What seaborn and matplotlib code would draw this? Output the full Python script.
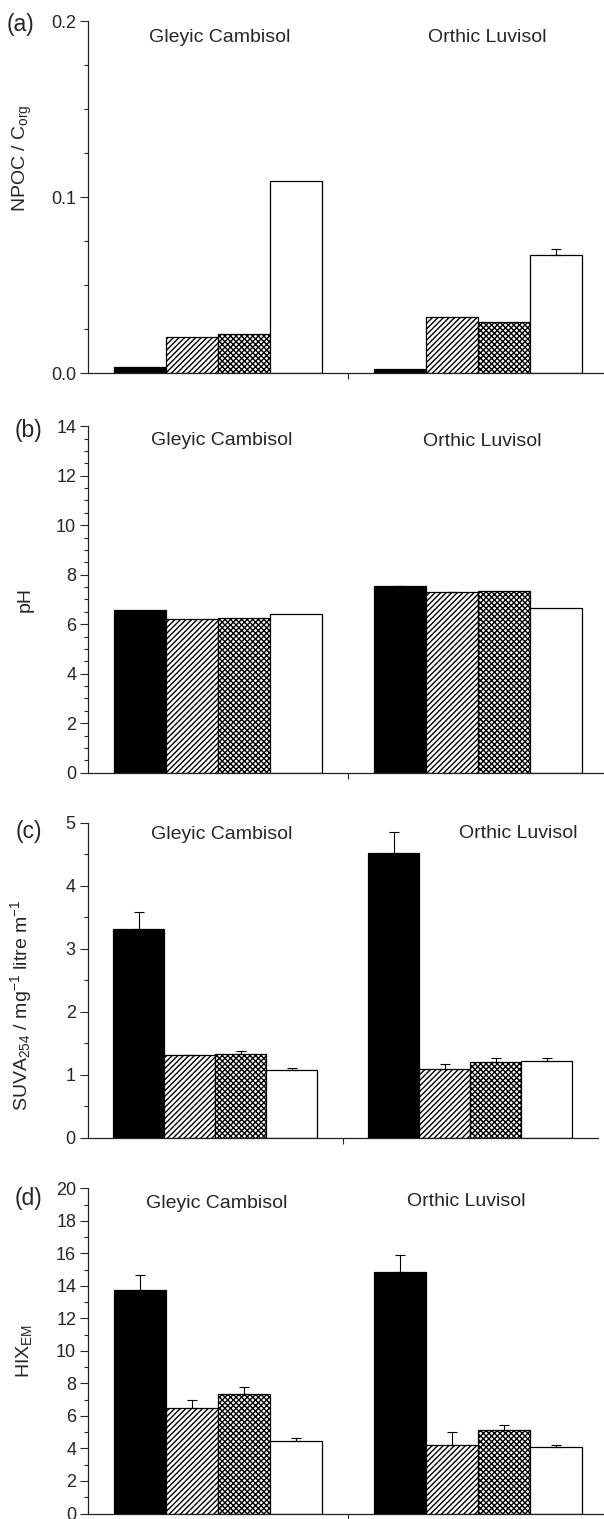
import numpy as np
import pandas as pd
import matplotlib
matplotlib.use("Agg")
import matplotlib.pyplot as plt
import seaborn as sns
from matplotlib.ticker import MultipleLocator, FormatStrFormatter

# ---------------- data ----------------
soils = ["Gleyic Cambisol", "Orthic Luvisol"]
fractions = ["F1", "F2", "F3", "F4"]

npoc_gleyic = [0.0034, 0.0208, 0.0222, 0.109]
npoc_orthic = [0.0023, 0.0318, 0.0290, 0.0672]
npoc_err_gleyic = [0.0, 0.0, 0.0, 0.0]
npoc_err_orthic = [0.0, 0.0, 0.0, 0.0032]

ph_gleyic = [6.56, 6.22, 6.26, 6.42]
ph_orthic = [7.53, 7.30, 7.34, 6.67]
ph_err_gleyic = [0.0, 0.0, 0.0, 0.0]
ph_err_orthic = [0.03, 0.02, 0.0, 0.0]

suva_gleyic = [3.31, 1.31, 1.33, 1.075]
suva_orthic = [4.52, 1.085, 1.20, 1.22]
suva_err_gleyic = [0.27, 0.01, 0.05, 0.035]
suva_err_orthic = [0.34, 0.08, 0.06, 0.045]

hix_gleyic = [13.74, 6.48, 7.34, 4.45]
hix_orthic = [14.87, 4.21, 5.15, 4.11]
hix_err_gleyic = [0.90, 0.51, 0.43, 0.21]
hix_err_orthic = [1.00, 0.82, 0.31, 0.08]

panel_letters = ["(a)", "(b)", "(c)", "(d)"]
ylabels = ["NPOC / C$_{org}$", "pH",
           "SUVA$_{254}$ / mg$^{-1}$ litre m$^{-1}$", "HIX$_{EM}$"]

# ---------------- style ----------------
sns.set_style("ticks")
plt.rcParams["font.family"] = ["Liberation Sans", "DejaVu Sans"]
plt.rcParams["mathtext.default"] = "regular"
plt.rcParams["hatch.linewidth"] = 1.0
plt.rcParams["axes.linewidth"] = 0.9
plt.rcParams["axes.edgecolor"] = "#222222"

face_colors = ["black", "white", "white", "white"]
hatches = ["", "//////", "xxxxxx", ""]

W, H = 604, 1519
fig = plt.figure(figsize=(W / 100, H / 100), dpi=100)


def px_rect(left, top, right, bottom):
    return [left / W, 1 - bottom / H, (right - left) / W, (bottom - top) / H]


def draw_panel(rect, g, o, eg, eo, ymax, major, minor, fmt, ylabel, label_y):
    ax = fig.add_axes(px_rect(*rect))
    df = pd.DataFrame({
        "soil": np.repeat(soils, len(fractions)),
        "fraction": fractions * len(soils),
        "value": list(g) + list(o),
        "err": list(eg) + list(eo),
    })
    sns.barplot(data=df, x="soil", y="value", hue="fraction",
                order=soils, hue_order=fractions, palette=face_colors,
                saturation=1, edgecolor="black", linewidth=0.9,
                width=0.8, errorbar=None, legend=False, ax=ax)
    bar_containers = list(ax.containers)
    for i, cont in enumerate(bar_containers):
        for j, patch in enumerate(cont.patches):
            patch.set_hatch(hatches[i])
            e = df[(df.soil == soils[j]) & (df.fraction == fractions[i])]["err"].iloc[0]
            if e > 0:
                xc = patch.get_x() + patch.get_width() / 2
                ax.errorbar([xc], [patch.get_height()], yerr=[[0], [e]],
                            fmt="none", ecolor="black", elinewidth=0.8,
                            capsize=3.5, capthick=0.8, zorder=1)
    ax.set_xlim(-0.5, 1.5)
    ax.set_ylim(0, ymax)
    ax.set_xticks([0.5])
    ax.set_xticklabels([])
    ax.set_xlabel("")
    ax.yaxis.set_major_locator(MultipleLocator(major))
    ax.yaxis.set_minor_locator(MultipleLocator(minor))
    ax.yaxis.set_major_formatter(FormatStrFormatter(fmt))
    ax.tick_params(axis="x", length=4, width=0.8, direction="out")
    ax.tick_params(axis="y", which="major", length=5.5, width=0.8,
                   labelsize=13, pad=3, direction="out")
    ax.tick_params(axis="y", which="minor", length=3, width=0.8,
                   direction="out")
    sns.despine(ax=ax)
    ax.set_ylabel(ylabel, fontsize=14)
    wpx = rect[2] - rect[0]
    ax.yaxis.set_label_coords((34 - rect[0]) / wpx, label_y)
    return ax


draw_panel((88, 21.3, 608.5, 373.3), npoc_gleyic, npoc_orthic,
           npoc_err_gleyic, npoc_err_orthic, 0.2, 0.1, 0.025, "%.1f",
           ylabels[0], 0.61)
draw_panel((88, 426.2, 608.5, 772.7), ph_gleyic, ph_orthic,
           ph_err_gleyic, ph_err_orthic, 14, 2, 0.5, "%d",
           ylabels[1], 0.50)
draw_panel((87.5, 822.7, 597.5, 1137.7), suva_gleyic, suva_orthic,
           suva_err_gleyic, suva_err_orthic, 5, 1, 0.5, "%d",
           ylabels[2], 0.42)
draw_panel((88, 1188.3, 608.5, 1513.5), hix_gleyic, hix_orthic,
           hix_err_gleyic, hix_err_orthic, 20, 2, 1, "%d",
           ylabels[3], 0.50)

# panel letters and soil titles (pixel positions)
letter_pos = [(21, 25), (28, 430), (29, 832), (28, 1198)]
gleyic_pos = [(220, 37), (222, 440), (222, 835), (217, 1203)]
orthic_pos = [(487, 38), (482, 441), (518, 834), (466, 1202)]
for k in range(4):
    lx, ly = letter_pos[k]
    fig.text(lx / W, 1 - ly / H, panel_letters[k], fontsize=16.5,
             ha="center", va="center")
    gx, gy = gleyic_pos[k]
    fig.text(gx / W, 1 - gy / H, soils[0], fontsize=14,
             ha="center", va="center")
    ox, oy = orthic_pos[k]
    fig.text(ox / W, 1 - oy / H, soils[1], fontsize=14,
             ha="center", va="center")

fig.savefig("out.png", dpi=100)
